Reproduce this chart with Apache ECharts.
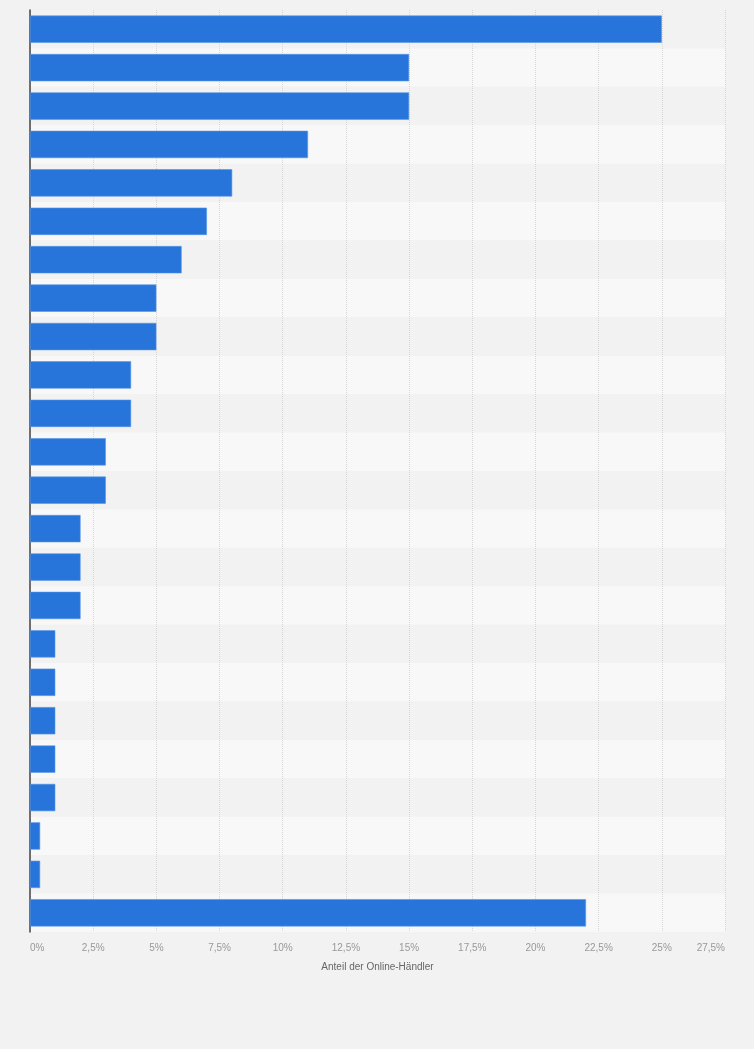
<!DOCTYPE html>
<html>
<head>
<meta charset="utf-8">
<script src="https://cdn.jsdelivr.net/npm/echarts@6/dist/echarts.min.js"></script>
<style>
  html, body { margin: 0; padding: 0; background: #f2f2f2; }
  #chart { width: 754px; height: 1049px; }
</style>
</head>
<body>
<div id="chart"></div>
<script>
// Kategorien haben im Bild keine sichtbaren Beschriftungen
const categories = ['1', '2', '3', '4', '5', '6', '7', '8', '9', '10', '11', '12',
  '13', '14', '15', '16', '17', '18', '19', '20', '21', '22', '23', '24'];
const shares = [25, 15, 15, 11, 8, 7, 6, 5, 5, 4, 4, 3, 3, 2, 2, 2, 1, 1, 1, 1, 1, 0.4, 0.4, 22];
const xTicks = [0, 2.5, 5, 7.5, 10, 12.5, 15, 17.5, 20, 22.5, 25, 27.5];

const chart = echarts.init(document.getElementById('chart'));
const option = {
  backgroundColor: '#f2f2f2',
  animation: false,
  grid: { left: 30, right: 29, top: 10, bottom: 117 },
  xAxis: {
    type: 'value',
    min: xTicks[0],
    max: xTicks[xTicks.length - 1],
    interval: 2.5,
    name: 'Anteil der Online-Händler',
    nameLocation: 'middle',
    nameGap: 30,
    nameTextStyle: { color: '#666', fontSize: 10, fontFamily: 'Liberation Sans' },
    axisLine: { show: false },
    axisTick: { show: false },
    axisLabel: {
      color: '#999',
      fontSize: 10,
      fontFamily: 'Liberation Sans',
      margin: 11,
      alignMinLabel: 'left',
      alignMaxLabel: 'right',
      formatter: v => String(v).replace('.', ',') + '%'
    },
    splitLine: { lineStyle: { color: '#d6d6d6', type: [1, 1], width: 1 } }
  },
  yAxis: {
    type: 'category',
    data: categories,
    inverse: true,
    axisLine: { show: true, lineStyle: { color: '#444', width: 1.5 } },
    axisTick: { show: false },
    axisLabel: { show: false },
    splitArea: { show: true, areaStyle: { color: ['#f2f2f2', '#f8f8f8'] } }
  },
  series: [{
    type: 'bar',
    data: shares,
    barCategoryGap: '29%',
    itemStyle: { color: '#2775da', borderColor: '#5596e6', borderWidth: 0.6 }
  }]
};
chart.setOption(option);
</script>
</body>
</html>
